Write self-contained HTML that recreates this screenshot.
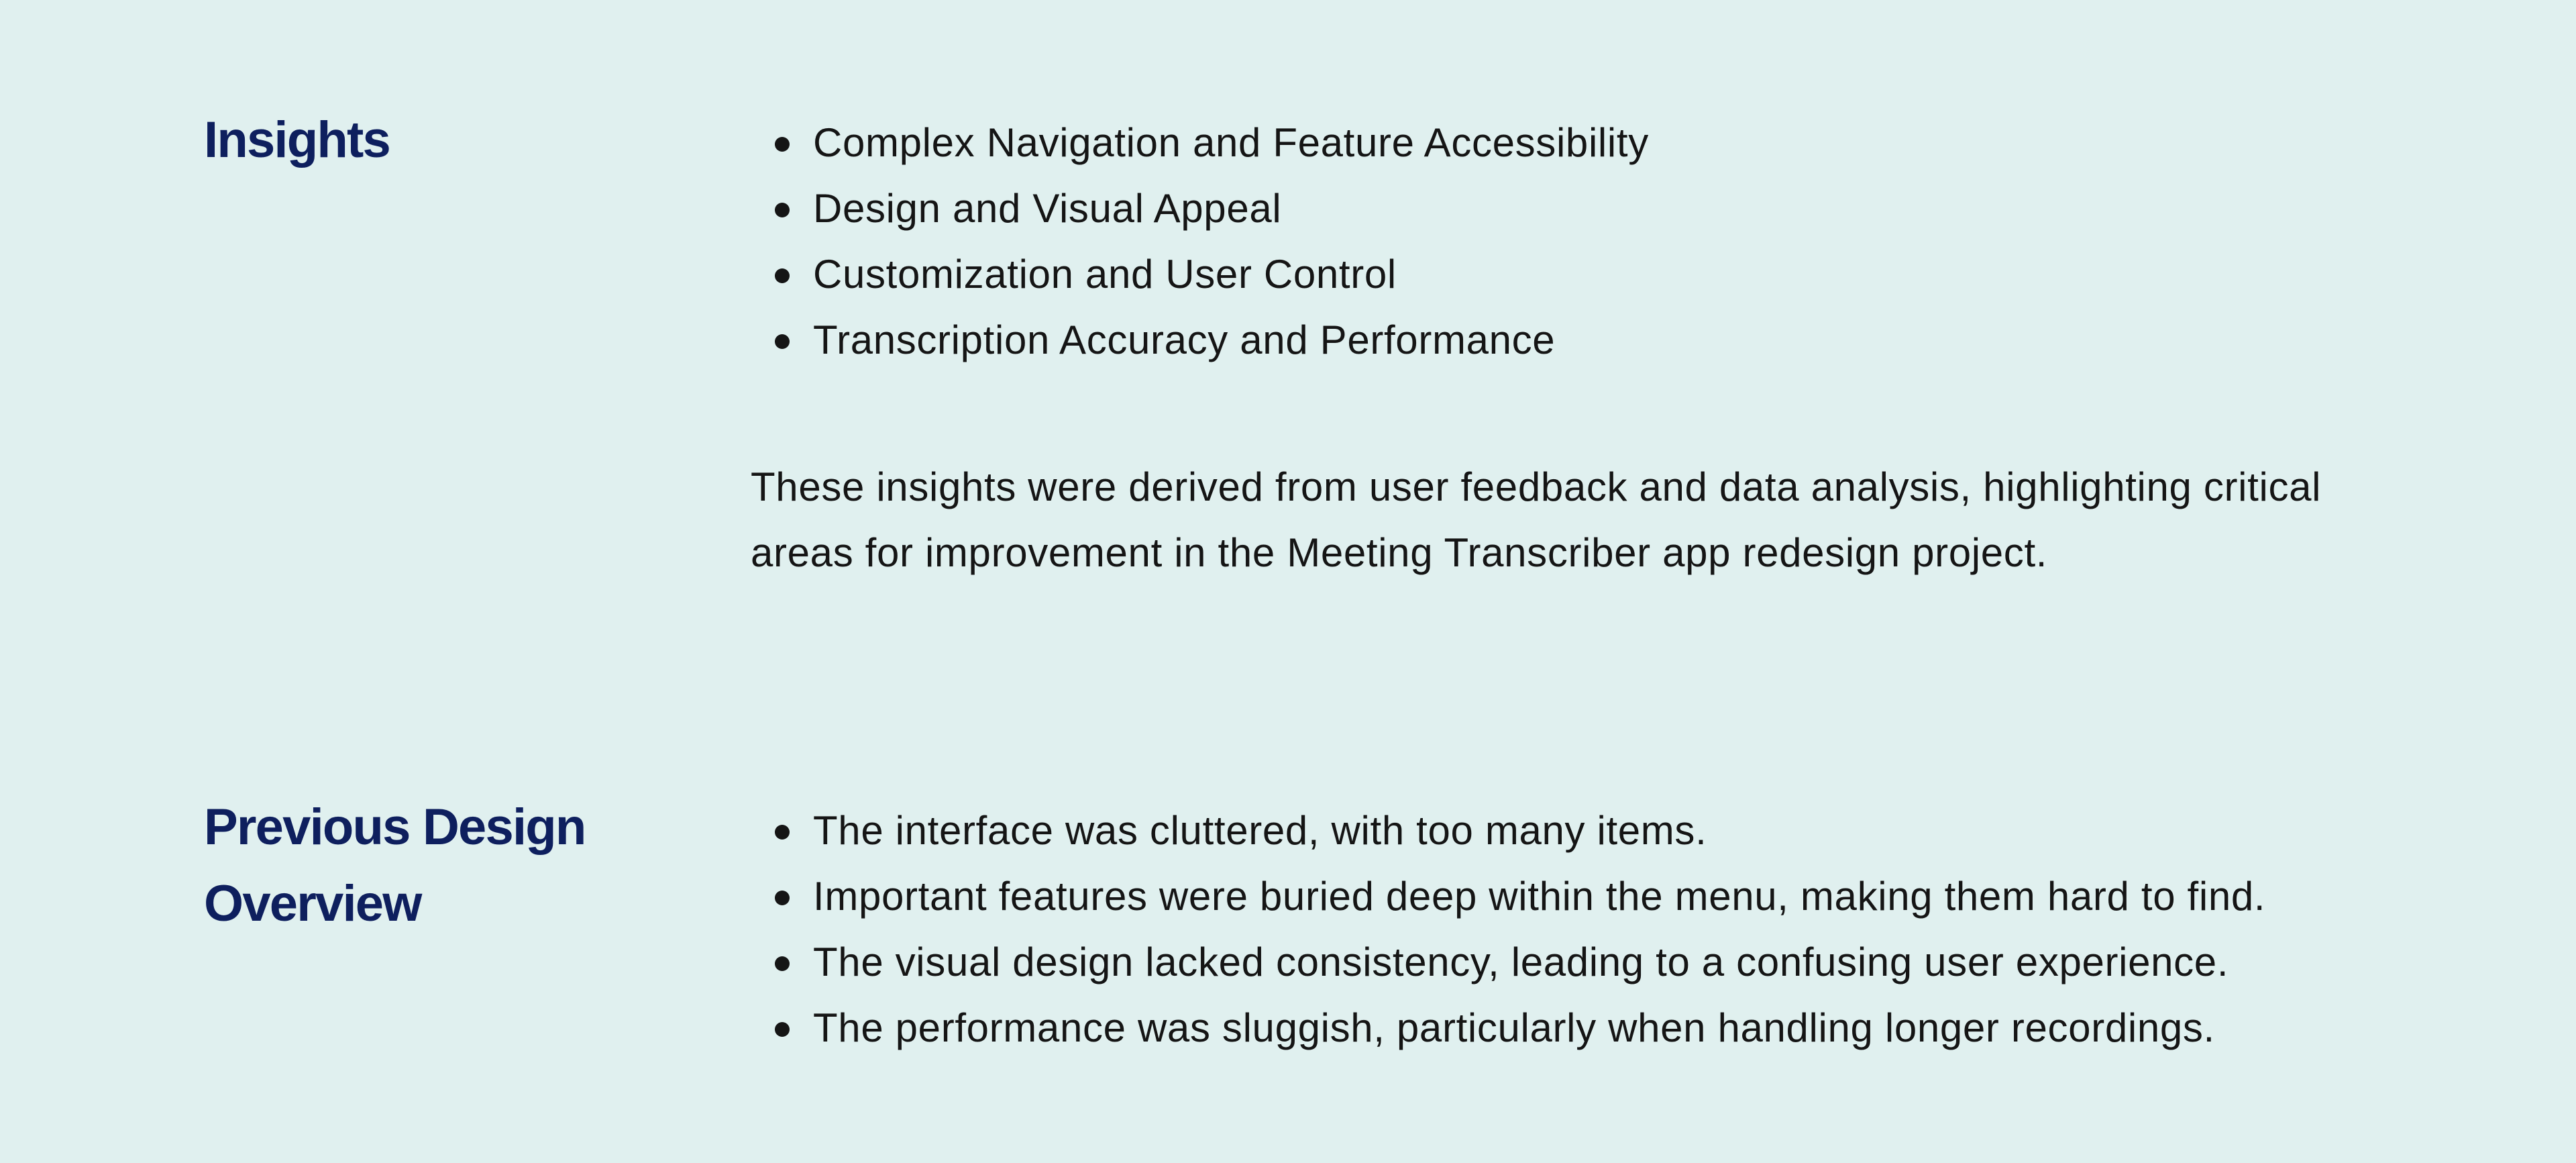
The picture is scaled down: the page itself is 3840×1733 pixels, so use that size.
<!DOCTYPE html>
<html><head><meta charset="utf-8"><style>
html,body{margin:0;padding:0}
body{width:3840px;height:1733px;background:#e0f0ef;position:relative;overflow:hidden;font-family:"Liberation Sans",Arial,sans-serif}
.h{position:absolute;left:304px;font-size:76px;line-height:114px;color:#0e1f5e;font-weight:bold;white-space:nowrap;letter-spacing:-1.8px}
.b{position:absolute;left:1212px;font-size:60px;line-height:98px;color:#151515;white-space:nowrap;letter-spacing:0.65px}
.b div{position:relative}
.b div:before{content:"";position:absolute;left:-57px;top:40px;width:22px;height:22px;border-radius:50%;background:#151515}
.p{position:absolute;left:1119px;top:677px;font-size:60px;line-height:98px;color:#151515;white-space:nowrap;letter-spacing:0.65px}
</style></head><body>
<div class="h" style="top:152px">Insights</div>
<div class="b" style="top:164px">
<div>Complex Navigation and Feature Accessibility</div>
<div>Design and Visual Appeal</div>
<div>Customization and User Control</div>
<div>Transcription Accuracy and Performance</div>
</div>
<div class="p">These insights were derived from user feedback and data analysis, highlighting critical<br>areas for improvement in the Meeting Transcriber app redesign project.</div>
<div class="h" style="top:1176px">Previous Design<br>Overview</div>
<div class="b" style="top:1189px">
<div>The interface was cluttered, with too many items.</div>
<div>Important features were buried deep within the menu, making them hard to find.</div>
<div>The visual design lacked consistency, leading to a confusing user experience.</div>
<div>The performance was sluggish, particularly when handling longer recordings.</div>
</div>
</body></html>
